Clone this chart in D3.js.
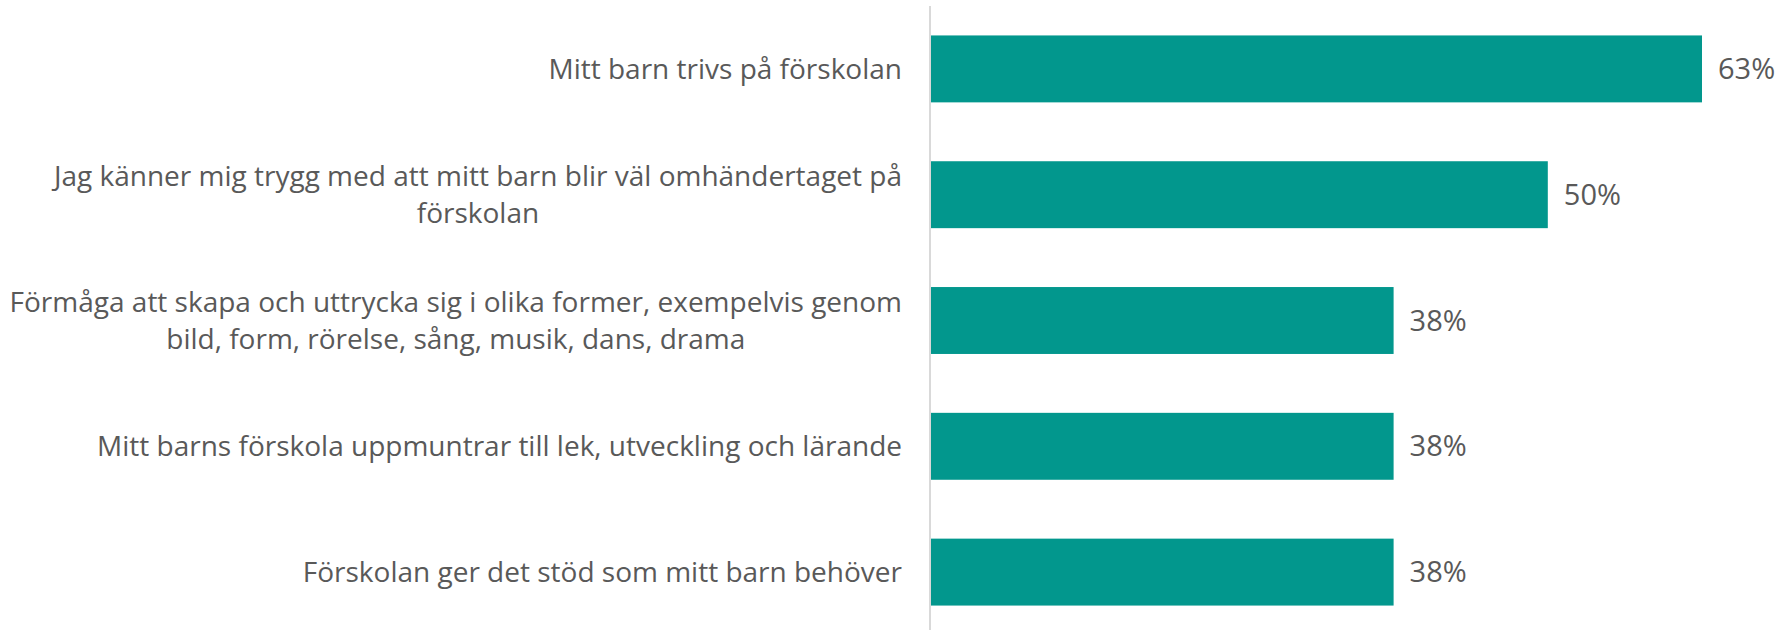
<!DOCTYPE html>
<html>
<head>
<meta charset="utf-8">
<script src="https://cdn.jsdelivr.net/npm/d3@7"></script>
<style>
  body { margin: 0; background: #fff; }
  text { font-family: "Open Sans", Lato, sans-serif; fill: #595959; }
</style>
</head>
<body>
<div id="chart"></div>
<script>
// survey answers, share of respondents (n = 8)
const categories = [
    "Mitt barn trivs på förskolan",
    "Jag känner mig trygg med att mitt barn blir väl omhändertaget på förskolan",
    "Förmåga att skapa och uttrycka sig i olika former, exempelvis genom bild, form, rörelse, sång, musik, dans, drama",
    "Mitt barns förskola uppmuntrar till lek, utveckling och lärande",
    "Förskolan ger det stöd som mitt barn behöver"
];
const values = [62.5, 50, 37.5, 37.5, 37.5];

const width = 1779,
    height = 630,
    margin = ({ top: 6, right: 20, bottom: -5, left: 931 });

const svg = d3.select("#chart")
    .append("svg")
    .attr("width", width)
    .attr("height", height);

const data = categories.map((c, i) => ({ cat: c, val: values[i] }));

// x: value scale, 62.5% ends at about 1702px
let x = d3.scaleLinear()
    .domain([0, 62.5])
    .range([margin.left, 1702]);

let y = d3.scaleBand()
    .domain(categories)
    .range([margin.top, height - margin.bottom])
    .paddingInner(0.468)
    .paddingOuter(0.234);

// bars
svg.append("g")
    .selectAll("rect")
    .data(data)
    .join("rect")
    .attr("x", x(0))
    .attr("y", d => y(d.cat))
    .attr("width", d => x(d.val) - x(0))
    .attr("height", y.bandwidth())
    .attr("fill", "#02978d");

// vertical axis line
svg.append("line")
    .attr("x1", x(0) - 1)
    .attr("x2", x(0) - 1)
    .attr("y1", margin.top)
    .attr("y2", height)
    .attr("stroke", "#d9d9d9")
    .attr("stroke-width", 2);

// value labels
svg.append("g")
    .selectAll("text")
    .data(data)
    .join("text")
    .attr("x", d => x(d.val) + 16)
    .attr("y", d => y(d.cat) + y.bandwidth() / 2)
    .attr("dy", "0.35em")
    .style("font-size", "29px")
    .text(d => Math.round(d.val) + "%");

// category labels, wrapped to the space left of the axis
const labelRight = 902,
    maxW = 905,
    lineH = 37;

const labels = svg.append("g")
    .selectAll("text")
    .data(data)
    .join("text")
    .attr("text-anchor", "middle")
    .style("font-size", "28px");

labels.each(function (d) {
    let t = d3.select(this);
    let words = d.cat.split(" "), lines = [], cur = [];
    let probe = t.append("tspan");
    for (let w of words) {
        probe.text(cur.concat(w).join(" "));
        if (cur.length && probe.node().getComputedTextLength() > maxW) {
            lines.push(cur.join(" "));
            cur = [w];
        } else cur.push(w);
    }
    lines.push(cur.join(" "));
    probe.remove();

    // longest line is right-aligned at labelRight, others centred on it
    let widest = 0;
    for (let l of lines) {
        probe = t.append("tspan").text(l);
        widest = Math.max(widest, probe.node().getComputedTextLength());
        probe.remove();
    }
    let cx = labelRight - widest / 2;
    let cy = y(d.cat) + y.bandwidth() / 2 - (lines.length - 1) * lineH / 2;
    lines.forEach((l, i) => {
        t.append("tspan")
            .attr("x", cx)
            .attr("y", cy + i * lineH)
            .attr("dy", "0.35em")
            .text(l);
    });
});
</script>
</body>
</html>
